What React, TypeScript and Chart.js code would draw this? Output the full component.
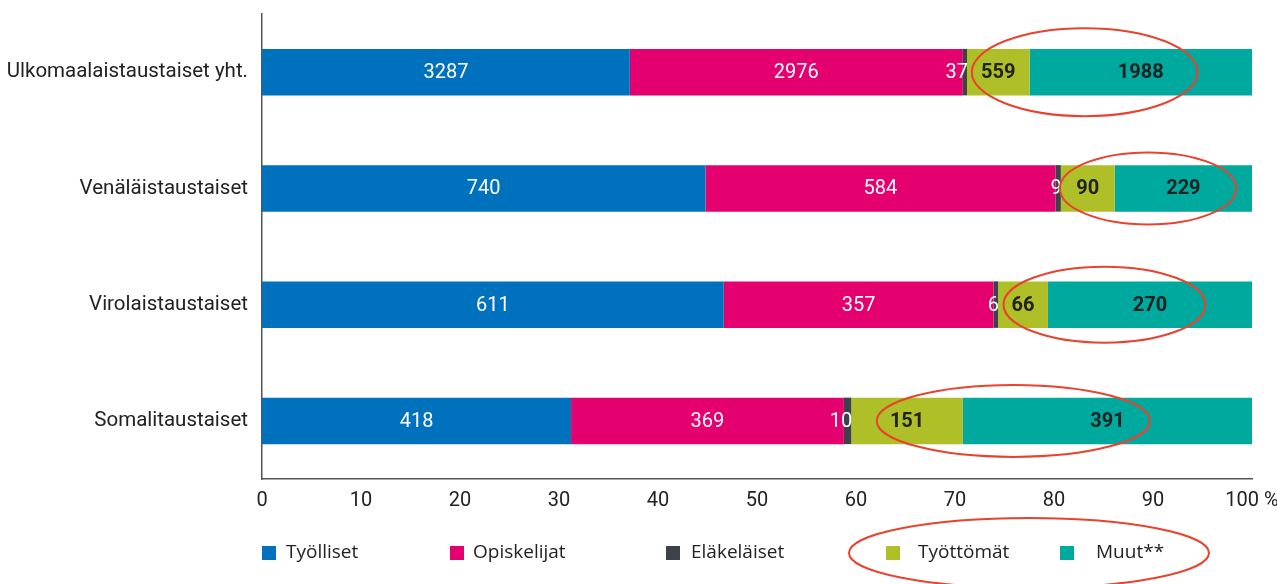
import React, { useEffect, useRef } from "react";
import { Chart, registerables } from "chart.js";

Chart.register(...registerables);

const categories = [
  "Ulkomaalaistaustaiset yht.",
  "Venäläistaustaiset",
  "Virolaistaustaiset",
  "Somalitaustaiset",
];
const seriesNames = ["Työlliset", "Opiskelijat", "Eläkeläiset", "Työttömät", "Muut**"];
const tyolliset = [3287, 740, 611, 418];
const opiskelijat = [2976, 584, 357, 369];
const elakelaiset = [37, 9, 6, 10];
const tyottomat = [559, 90, 66, 151];
const muut = [1988, 229, 270, 391];
const xTicks = [0, 10, 20, 30, 40, 50, 60, 70, 80, 90, 100];

// highlight ellipses: centre in % along the x axis, half-width in %, half-height px
const ellipseCx = [83.1, 89.5, 85.1, 75.9];
const ellipseRx = [11.4, 8.9, 10.2, 13.8];
const ellipseRy = [44, 36, 38, 36];

const colors = ["#0071BC", "#E5006F", "#3D4149", "#AFBF28", "#00A99E"];
const MAIN = "Roboto, 'Liberation Sans', sans-serif";
const LEG = "'Open Sans', 'Noto Sans', 'Liberation Sans', sans-serif";

const raw = [tyolliset, opiskelijat, elakelaiset, tyottomat, muut];
const totals = categories.map((_, i) => raw.reduce((s, arr) => s + arr[i], 0));
const pct = raw.map((arr) => arr.map((v, i) => (v / totals[i]) * 100));

const legendSquareX = [262, 450, 666, 886, 1060];
const legendTextX = [286, 473, 691, 918, 1096];

const labelsPlugin = {
  id: "valueLabels",
  afterDatasetsDraw(chart: any) {
    const ctx = chart.ctx;
    ctx.save();
    ctx.textBaseline = "middle";
    chart.data.datasets.forEach((ds: any, di: number) => {
      const meta = chart.getDatasetMeta(di);
      meta.data.forEach((el: any, i: number) => {
        const v = raw[di][i];
        const left = Math.min(el.x, el.base);
        const right = Math.max(el.x, el.base);
        const cy = el.y + 1;
        if (di <= 1) {
          ctx.font = `20px ${MAIN}`;
          ctx.fillStyle = "#ffffff";
          ctx.textAlign = "center";
          ctx.fillText(String(v), (left + right) / 2, cy);
        } else if (di === 2) {
          ctx.font = `20px ${MAIN}`;
          ctx.fillStyle = "#ffffff";
          ctx.textAlign = "right";
          ctx.fillText(String(v), right + 1, cy);
        } else {
          ctx.font = `bold 20px ${MAIN}`;
          ctx.fillStyle = "#222222";
          ctx.textAlign = "center";
          ctx.fillText(String(v), (left + right) / 2, cy);
        }
      });
    });
    ctx.restore();
  },
  afterDraw(chart: any) {
    const ctx = chart.ctx;
    const xs = chart.scales.x;
    const ys = chart.scales.y;
    ctx.save();
    // legend
    ctx.textBaseline = "middle";
    ctx.textAlign = "left";
    ctx.font = `19px ${LEG}`;
    seriesNames.forEach((name, i) => {
      ctx.fillStyle = colors[i];
      ctx.fillRect(legendSquareX[i], 546, 14, 14);
      ctx.fillStyle = "#222222";
      ctx.fillText(name, legendTextX[i], 553);
    });
    // ellipses
    ctx.strokeStyle = "#E8432E";
    ctx.lineWidth = 2;
    const unit = (xs.right - xs.left) / 100;
    categories.forEach((_, i) => {
      const cx = xs.getPixelForValue(ellipseCx[i]);
      const cy = ys.getPixelForValue(i);
      ctx.beginPath();
      ctx.ellipse(cx, cy, ellipseRx[i] * unit, ellipseRy[i], 0, 0, Math.PI * 2);
      ctx.stroke();
    });
    ctx.beginPath();
    ctx.ellipse(1029, 553, 180, 35, 0, 0, Math.PI * 2);
    ctx.stroke();
    ctx.restore();
  },
};

export default function App() {
  const ref = useRef<HTMLCanvasElement>(null);
  useEffect(() => {
    document.body.style.margin = "0";
    const chart = new Chart(ref.current!, {
      type: "bar",
      data: {
        labels: categories,
        datasets: seriesNames.map((name, i) => ({
          label: name,
          data: pct[i],
          backgroundColor: colors[i],
          borderWidth: 0,
          categoryPercentage: 1,
          barPercentage: 0.4,
        })),
      },
      options: {
        indexAxis: "y",
        animation: false,
        responsive: false,
        layout: { padding: { top: 14, right: 25, left: 0, bottom: 0 } },
        plugins: {
          legend: { display: false },
          tooltip: { enabled: false },
        },
        scales: {
          x: {
            stacked: true,
            min: 0,
            max: 100,
            afterBuildTicks: (s: any) => {
              s.ticks = xTicks.map((v) => ({ value: v }));
            },
            afterFit: (s: any) => {
              s.height = 105;
              s.paddingLeft = 0;
              s.paddingRight = 0;
              s.paddingTop = 0;
              s.paddingBottom = 0;
            },
            grid: { display: false },
            border: { display: true, color: "#555", width: 1.5 },
            ticks: {
              padding: 2,
              maxRotation: 0,
              autoSkip: false,
              color: "#222",
              font: { family: MAIN, size: 20 },
              callback: (v: any) => (v === 100 ? "100 %" : String(v)),
            },
          },
          y: {
            stacked: true,
            afterFit: (s: any) => {
              s.width = 262;
              s.paddingTop = 0;
              s.paddingBottom = 0;
              s.paddingLeft = 0;
              s.paddingRight = 0;
            },
            grid: { display: false },
            border: { display: true, color: "#555", width: 1.5 },
            ticks: {
              padding: 6,
              color: "#222",
              font: { family: MAIN, size: 20.5 },
            },
          },
        },
      },
      plugins: [labelsPlugin],
    });
    return () => chart.destroy();
  }, []);
  return (
    <div style={{ position: "fixed", left: 0, top: 0, width: 1277, height: 584 }}>
      <canvas ref={ref} width={1277} height={584} />
    </div>
  );
}
